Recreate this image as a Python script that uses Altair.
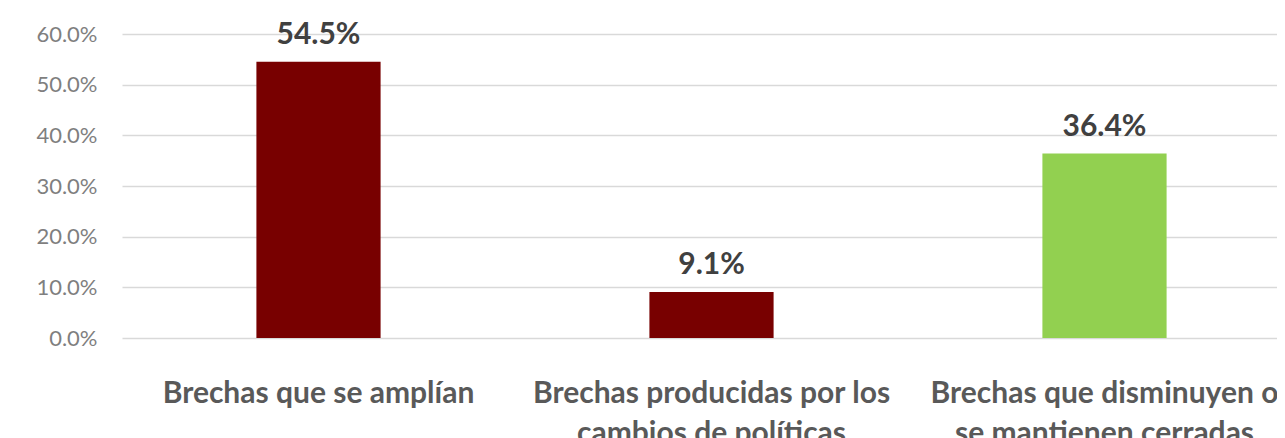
import altair as alt
import pandas as pd

categories = [
    "Brechas que se amplían",
    "Brechas producidas por los|cambios de políticas",
    "Brechas que disminuyen o|se mantienen cerradas",
]
values = [54.5, 9.1, 36.4]
colors = ["#780000", "#780000", "#92D050"]
y_ticks = [0, 10, 20, 30, 40, 50, 60]

df = pd.DataFrame({"cat": categories, "val": values, "color": colors})
df["label"] = df["val"].map(lambda v: f"{v:.1f}%")

FONT = "Lato"

x = alt.X(
    "cat:N",
    sort=categories,
    scale=alt.Scale(range=[0, 1179], paddingInner=0.684, paddingOuter=0.342),
    axis=alt.Axis(
        title=None,
        labelExpr="split(datum.label, '|')",
        labelAngle=0,
        labelFont=FONT,
        labelFontSize=30,
        labelFontWeight="bold",
        labelColor="#595959",
        labelPadding=40,
        labelLineHeight=40,
        labelBaseline="top",
        labelLimit=0,
        ticks=False,
        domain=False,
        grid=False,
    ),
)

y = alt.Y(
    "val:Q",
    scale=alt.Scale(domain=[0, 60], nice=False),
    axis=alt.Axis(
        title=None,
        values=y_ticks,
        labelExpr="format(datum.value, '.1f') + '%'",
        labelFont=FONT,
        labelFontSize=22,
        labelColor="#7F7F7F",
        labelPadding=25,
        ticks=False,
        domain=False,
        grid=True,
        gridColor="#D9D9D9",
        gridWidth=1.5,
    ),
)

bars = alt.Chart(df).mark_bar().encode(
    x=x,
    y=y,
    color=alt.Color("color:N", scale=None),
)

text = alt.Chart(df).mark_text(
    font=FONT, fontSize=30, fontWeight="bold", color="#404040", dy=-18, baseline="alphabetic"
).encode(
    x=alt.X("cat:N", sort=categories),
    y=alt.Y("val:Q"),
    text="label:N",
)

chart = (
    alt.layer(bars, text)
    .properties(
        width=1155,
        height=304,
        autosize=alt.AutoSizeParams(type="none"),
        padding={"left": 114, "top": 26, "right": 0, "bottom": 110},
    )
    .configure_view(stroke=None)
)

chart.save("out.html", embed_options={"renderer": "svg", "actions": False})
